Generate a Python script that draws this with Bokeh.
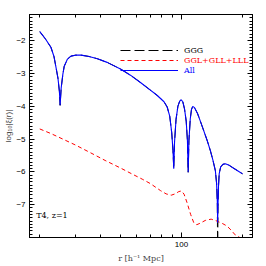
from bokeh.plotting import figure
from bokeh.models import (Range1d, LinearAxis, LogAxis, FixedTicker, SingleIntervalTicker,
                          CustomJSTickFormatter, Legend, LegendItem, Label)
from bokeh.embed import file_html
from bokeh.resources import INLINE

# ---- data ----
r_all = [20.0, 21.3, 22.7, 23.5, 24.0, 24.6, 25.0, 25.2, 25.5, 26.0, 26.4, 27.4, 28.5,
         30.0, 32.0, 35.0, 38.5, 43.0, 50.0, 56.0, 63.0, 70.0, 76.0, 82.0, 85.0, 87.5,
         89.5, 90.8, 91.6, 92.4, 94.0, 96.0, 98.0, 99.7, 101.5, 103.5, 105.5, 107.0,
         107.9, 108.8, 110.5, 112.0, 113.6, 116.0, 120.0, 124.0, 128.7, 134.0, 138.8,
         143.0, 146.9, 149.0, 150.2, 150.8, 151.4, 152.2, 153.5, 156.0, 160.0, 164.5,
         172.0, 180.0, 190.0, 200.0]
log_all = [-1.72, -1.94, -2.20, -2.48, -2.78, -3.15, -3.55, -3.97, -3.45, -3.02, -2.78,
           -2.56, -2.47, -2.44, -2.44, -2.48, -2.55, -2.66, -2.86, -3.05, -3.28, -3.50,
           -3.67, -3.86, -4.02, -4.30, -4.80, -5.35, -5.90, -5.10, -4.40, -4.00, -3.84,
           -3.80, -3.86, -4.08, -4.45, -5.05, -6.01, -5.05, -4.38, -4.10, -4.00, -4.04,
           -4.22, -4.46, -4.74, -5.05, -5.35, -5.65, -5.96, -6.35, -6.90, -7.55, -7.00,
           -6.45, -6.05, -5.85, -5.77, -5.75, -5.80, -5.88, -5.97, -6.06]

r_ggg = [20.0, 21.3, 22.7, 23.5, 24.0, 24.6, 25.0, 25.2, 25.5, 26.0, 26.4, 27.4, 28.5,
         30.0, 32.0, 35.0, 38.5, 43.0, 50.0, 56.0, 63.0, 70.0, 76.0, 82.0, 85.0, 87.5,
         89.5, 90.8, 91.6, 92.4, 94.0, 96.0, 98.0, 99.7, 101.5, 103.5, 105.5, 107.0,
         107.9, 108.8, 110.5, 112.0, 113.6, 116.0, 120.0, 124.0, 128.7, 134.0, 138.8,
         143.0, 146.9, 149.0, 150.2, 150.8, 151.4, 152.2, 153.5, 156.0, 160.0, 164.5,
         172.0, 180.0, 190.0, 200.0]
log_ggg = [-1.72, -1.94, -2.20, -2.48, -2.78, -3.15, -3.55, -3.97, -3.45, -3.02, -2.78,
           -2.56, -2.47, -2.44, -2.44, -2.48, -2.55, -2.66, -2.86, -3.05, -3.28, -3.50,
           -3.67, -3.86, -4.02, -4.30, -4.80, -5.35, -5.90, -5.10, -4.40, -4.00, -3.84,
           -3.80, -3.86, -4.08, -4.45, -5.05, -6.01, -5.05, -4.38, -4.10, -4.00, -4.04,
           -4.22, -4.46, -4.74, -5.05, -5.35, -5.65, -5.96, -6.35, -6.95, -8.60, -7.05,
           -6.45, -6.05, -5.85, -5.77, -5.75, -5.80, -5.88, -5.97, -6.06]

r_rest = [20.0, 22.7, 26.0, 30.0, 35.7, 42.0, 50.0, 57.3, 64.0, 70.4, 78.8, 84.0, 89.0,
          93.0, 97.0, 100.0, 103.0, 106.7, 111.0, 115.0, 119.0, 124.0, 131.0, 140.0,
          149.8, 160.0, 167.6, 176.0, 184.0, 200.0]
log_rest = [-4.69, -4.83, -5.00, -5.18, -5.42, -5.65, -5.88, -6.07, -6.22, -6.36, -6.57,
            -6.67, -6.71, -6.67, -6.60, -6.58, -6.68, -6.95, -7.30, -7.55, -7.61, -7.56,
            -7.48, -7.44, -7.50, -7.58, -7.65, -7.78, -7.92, -8.05]

label_ggg = "GGG"
label_rest = "GGL+GLL+LLL"
label_all = "All"
note_text = "T4, z=1"

x_major_ticks = [100]
x_minor_ticks = [20, 30, 40, 50, 60, 70, 80, 90, 200]

SERIF = "DejaVu Serif"
SANS = "Liberation Sans"

p = figure(width=266, height=266, x_axis_type="log",
           x_range=Range1d(17.8, 224), y_range=Range1d(-8, -1.2),
           output_backend="svg", toolbar_location=None,
           min_border_left=29, min_border_right=14, min_border_top=14, min_border_bottom=29,
           background_fill_color="white", border_fill_color="white")
p.grid.visible = False
p.outline_line_color = "black"
p.outline_line_width = 1

minus_fmt = CustomJSTickFormatter(
    code="if (tick < -7.5) { return ''; } return (tick < 0 ? '\u2212' : '') + Math.abs(tick);")
plain_fmt = CustomJSTickFormatter(code="return String(Math.round(tick));")
blank_fmt = CustomJSTickFormatter(code="return '';")


def style_axis(ax, show_labels):
    ax.axis_line_color = "black"
    ax.major_tick_in = 5
    ax.major_tick_out = 0
    ax.minor_tick_in = 3
    ax.minor_tick_out = 0
    ax.major_tick_line_color = "black"
    ax.minor_tick_line_color = "black"
    if show_labels:
        ax.major_label_text_font = SANS
        ax.major_label_text_font_size = "8px"
        ax.major_label_text_color = "black"
        ax.major_label_standoff = 4
    else:
        ax.formatter = blank_fmt
        ax.major_label_text_font_size = "1px"
        ax.major_label_standoff = 0


xt = FixedTicker(ticks=x_major_ticks, minor_ticks=x_minor_ticks)
yt = SingleIntervalTicker(interval=1, num_minor_ticks=10)

xa = p.xaxis[0]
xa.ticker = xt
xa.formatter = plain_fmt
style_axis(xa, True)
xa.axis_label = "r [h\u207b\u00b9 Mpc]"
xa.axis_label_text_font = SERIF
xa.axis_label_text_font_style = "normal"
xa.axis_label_text_font_size = "8px"
xa.axis_label_standoff = 4

ya = p.yaxis[0]
ya.ticker = yt
ya.formatter = minus_fmt
style_axis(ya, True)
ya.axis_label = "log\u2081\u2080|\u03be(r)|"
ya.axis_label_text_font = SANS
ya.axis_label_text_font_style = "normal"
ya.axis_label_text_font_size = "8px"
ya.axis_label_standoff = 0

top = LogAxis(ticker=FixedTicker(ticks=x_major_ticks, minor_ticks=x_minor_ticks))
style_axis(top, False)
p.add_layout(top, "above")
right = LinearAxis(ticker=SingleIntervalTicker(interval=1, num_minor_ticks=10))
style_axis(right, False)
p.add_layout(right, "right")

l_ggg = p.line(r_ggg, log_ggg, line_color="black", line_width=1, line_dash="10 4")
l_rest = p.line(r_rest, log_rest, line_color="#ff0000", line_width=1, line_dash="4 3")
l_all = p.line(r_all, log_all, line_color="#0000ff", line_width=1.1)


def add_legend(renderer, text, color, vy):
    lg = Legend(items=[LegendItem(label=text, renderers=[renderer])],
                location=(91, vy), glyph_width=58, glyph_height=10, label_height=10,
                label_standoff=6, padding=0, margin=0, spacing=0,
                border_line_color=None, background_fill_alpha=0,
                label_text_color=color, label_text_font=SERIF,
                label_text_font_size="8px")
    p.add_layout(lg)


add_legend(l_ggg, label_ggg, "black", 182)
add_legend(l_rest, label_rest, "#ff0000", 172)
add_legend(l_all, label_all, "#0000ff", 162)

p.add_layout(Label(x=19.2, y=-7.33, text=note_text, text_font=SERIF,
                   text_font_size="8px", text_baseline="middle", text_color="black"))

open("out.html", "w").write(file_html(p, INLINE))
